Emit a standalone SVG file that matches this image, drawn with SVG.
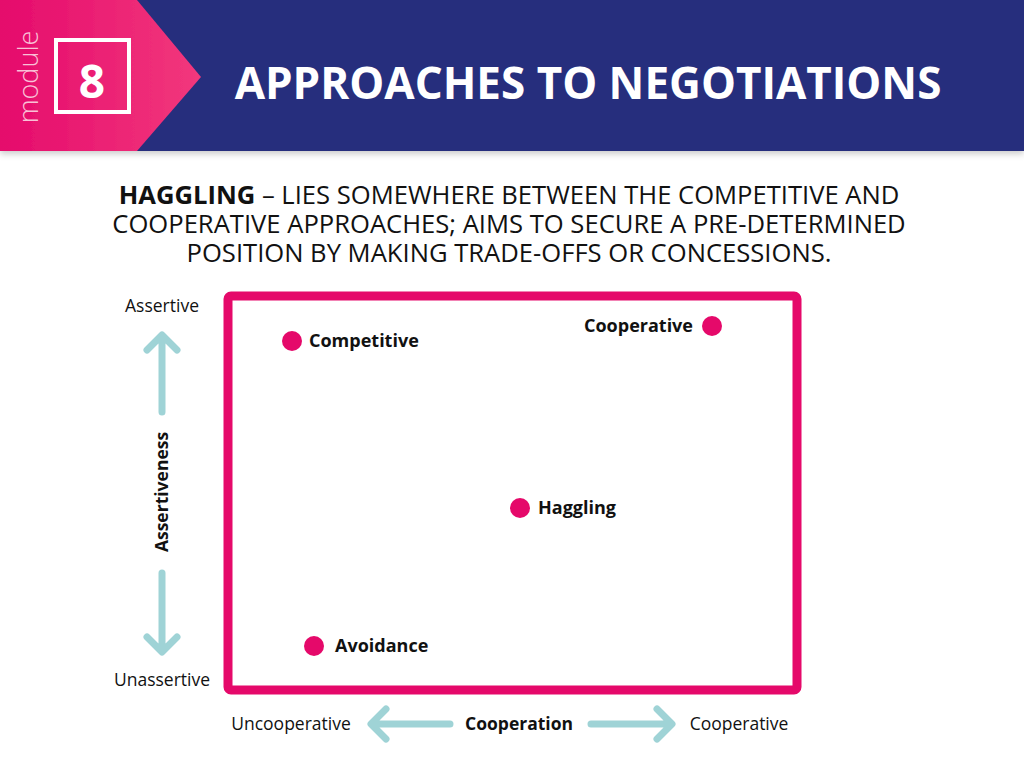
<svg xmlns="http://www.w3.org/2000/svg" width="1024" height="767" viewBox="0 0 1024 767">
<defs>
<linearGradient id="pg" x1="0" x2="1" y1="0" y2="0"><stop offset="0" stop-color="#e50a6c"/><stop offset="1" stop-color="#f2387c"/></linearGradient>
<filter id="sh" x="-5%" y="-5%" width="110%" height="120%"><feDropShadow dx="0" dy="3" stdDeviation="3" flood-opacity="0.2"/></filter>
</defs>
<style>
.t{font-family:"Open Sans","Noto Sans",sans-serif;fill:#111}
.ar{stroke:#9fd3d6;stroke-width:7;stroke-linecap:round;stroke-linejoin:round;fill:none}
.dot{fill:#e5096a}
.lb{font-family:"Open Sans","Noto Sans",sans-serif;font-weight:bold;font-size:18px;fill:#111}
</style>
<rect width="1024" height="767" fill="#fff"/>
<g id="header" filter="url(#sh)">
<rect x="0" y="0" width="1024" height="151" fill="#252e7d"/>
<polygon points="0,0 137,0 201,77 137,151 0,151" fill="url(#pg)"/>
</g>
<g id="module">
<text class="t" transform="translate(38,77) rotate(-90)" text-anchor="middle" font-size="27" font-weight="300" style="fill:#f9c0d6">module</text>
<rect x="56" y="40" width="73" height="72" fill="none" stroke="#fff" stroke-width="4"/>
<text class="t" x="92" y="98" text-anchor="middle" font-size="46" font-weight="bold" style="fill:#fff">8</text>
</g>
<text class="t" x="588" y="99" text-anchor="middle" font-size="44" font-weight="bold" style="fill:#fff">APPROACHES TO NEGOTIATIONS</text>
<g id="subtitle" class="t" font-size="25.6" text-anchor="middle">
<text x="509" y="204"><tspan font-weight="bold">HAGGLING</tspan> – LIES SOMEWHERE BETWEEN THE COMPETITIVE AND</text>
<text x="509" y="233">COOPERATIVE APPROACHES; AIMS TO SECURE A PRE-DETERMINED</text>
<text x="509" y="262">POSITION BY MAKING TRADE-OFFS OR CONCESSIONS.</text>
</g>
<g id="box"><rect x="228" y="296" width="569" height="394" rx="3" fill="none" stroke="#e5096a" stroke-width="9"/></g>
<g id="connectors">
<path class="ar" d="M162,412 V336 M147,350 L162,335 L177,350"/>
<path class="ar" d="M162,573 V651 M147,637 L162,652 L177,637"/>
<path class="ar" d="M450,724 H372 M386,709 L371,724 L386,739"/>
<path class="ar" d="M591,724 H671 M657,709 L672,724 L657,739"/>
</g>
<g id="axes" class="t" font-size="17.5">
<text x="162" y="312" text-anchor="middle">Assertive</text>
<text x="162" y="686" text-anchor="middle">Unassertive</text>
<text x="291" y="730" text-anchor="middle">Uncooperative</text>
<text x="739" y="730" text-anchor="middle">Cooperative</text>
<text x="519" y="730" text-anchor="middle" font-weight="bold">Cooperation</text>
<text transform="translate(168,492) rotate(-90)" text-anchor="middle" font-weight="bold">Assertiveness</text>
</g>
<g id="competitive"><circle class="dot" cx="292" cy="341" r="10"/><text class="lb" x="309" y="347">Competitive</text></g>
<g id="cooperative"><circle class="dot" cx="712" cy="326" r="10"/><text class="lb" x="693" y="332" text-anchor="end">Cooperative</text></g>
<g id="haggling"><circle class="dot" cx="520" cy="508" r="10"/><text class="lb" x="538" y="514">Haggling</text></g>
<g id="avoidance"><circle class="dot" cx="314" cy="646" r="10"/><text class="lb" x="335" y="652">Avoidance</text></g>
</svg>
